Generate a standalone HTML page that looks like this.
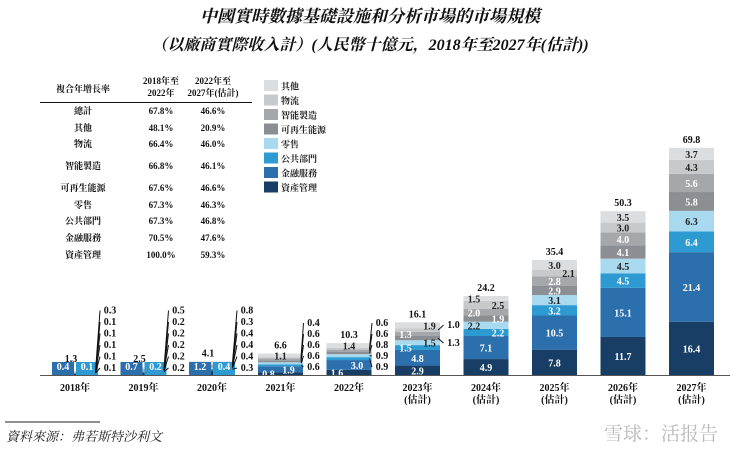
<!DOCTYPE html>
<html><head><meta charset="utf-8">
<style>
body{margin:0;background:#fff;}
svg text{font-family:"Liberation Serif","Noto Serif CJK SC","Noto Sans CJK TC",serif;}
</style></head>
<body>
<svg id="c" width="740" height="454" viewBox="0 0 740 454" xmlns="http://www.w3.org/2000/svg">
<text x="370" y="22" text-anchor="middle" font-size="17" font-weight="bold" font-style="italic" fill="#111">中國實時數據基礎設施和分析市場的市場規模</text>
<text x="370" y="50" text-anchor="middle" font-size="16" font-weight="bold" font-style="italic" fill="#111">（以廠商實際收入計）(人民幣十億元，2018年至2027年(估計))</text>
<g id="table"></g>
<g id="legend"></g>
<g id="bars"></g>
<line x1="40" y1="375.5" x2="730" y2="375.5" stroke="#555" stroke-width="1"/>
<line x1="5" y1="422" x2="100" y2="422" stroke="#222" stroke-width="1"/>
<text x="6" y="441" font-size="13" font-style="italic" fill="#222">資料來源：弗若斯特沙利文</text>
<text x="718" y="440" text-anchor="end" font-size="19" fill="#b8b8b8">雪球：活报告</text>
</svg>
<script>
const years=["2018年","2019年","2020年","2021年","2022年","2023年","2024年","2025年","2026年","2027年"];
const totals=["1.3","2.5","4.1","6.6","10.3","16.1","24.2","35.4","50.3","69.8"];
const seriesNames=["資產管理","金融服務","公共部門","零售","可再生能源","智能製造","物流","其他"];
const assetMgmt=[0.4,0.7,1.2,0.8,1.6,2.9,4.9,7.8,11.7,16.4];
const finance=[0.1,0.2,0.4,1.9,3.0,4.8,7.1,10.5,15.1,21.4];
const publicSector=[0.1,0.2,0.3,0.6,0.9,1.5,2.2,3.2,4.5,6.4];
const retail=[0.1,0.2,0.4,0.6,0.9,1.5,2.2,3.1,4.5,6.3];
const renewable=[0.1,0.2,0.4,0.6,0.8,1.3,1.9,2.9,4.1,5.8];
const smartMfg=[0.1,0.2,0.4,0.6,0.6,1.3,2.0,2.8,4.0,5.6];
const logistics=[0.1,0.2,0.3,0.4,0.6,1.0,2.5,2.1,3.0,4.3];
const others=[0.3,0.5,0.8,1.1,1.4,1.9,1.5,3.0,3.5,3.7];
const tableRows=["總計","其他","物流","智能製造","可再生能源","零售","公共部門","金融服務","資產管理"];
const cagr1=["67.8%","48.1%","66.4%","66.8%","67.6%","67.3%","67.3%","70.5%","100.0%"];
const cagr2=["46.6%","20.9%","46.0%","46.1%","46.6%","46.3%","46.8%","47.6%","59.3%"];

const series=[assetMgmt,finance,publicSector,retail,renewable,smartMfg,logistics,others];
const colors=["#193e66","#2c6fad","#2d9bd2","#a9d9ef","#8b8e93","#a5a7ab","#c8c9cb","#dcdddf"];
const textCol=["#fff","#fff","#fff","#222","#fff","#fff","#222","#222"];
// label layout offsets for crowded forecast years (layout only)
const offs={5:[0,0,-12,12,'s',-12,'s',12],6:[0,0,12,-12,12,-12,12,-12],7:[0,0,0,0,0,0,14,0]};
const NS="http://www.w3.org/2000/svg";
function mk(tag,attrs,parent,txt){const e=document.createElementNS(NS,tag);for(const k in attrs)e.setAttribute(k,attrs[k]);if(txt!==undefined)e.textContent=txt;parent.appendChild(e);return e;}
const base=375,scale=3.25;
function y(v){return base-v*scale;}
function xc(i){return 75+i*68.5;}
const bw=45;

const tb=document.getElementById('table');
let h=mk('text',{x:83,y:92,'text-anchor':'middle','font-size':9,'font-weight':'bold',fill:'#111'},tb,'複合年增長率');


mk('text',{x:161,y:84,'text-anchor':'middle','font-size':9,'font-weight':'bold',fill:'#111'},tb,'2018年至');
mk('text',{x:161,y:96,'text-anchor':'middle','font-size':9,'font-weight':'bold',fill:'#111'},tb,'2022年');
mk('text',{x:213,y:84,'text-anchor':'middle','font-size':9,'font-weight':'bold',fill:'#111'},tb,'2022年至');
mk('text',{x:213,y:96,'text-anchor':'middle','font-size':9,'font-weight':'bold',fill:'#111'},tb,'2027年(估計)');
mk('line',{x1:40,y1:102.5,x2:252,y2:102.5,stroke:'#111','stroke-width':1},tb);
const rowY=[114,131,147,169,191,208,224,241,258];
tableRows.forEach((r,i)=>{
  const t=mk('text',{x:83,y:rowY[i],'text-anchor':'middle','font-size':9,'font-weight':'bold',fill:'#111'},tb,r);
  
  
  mk('text',{x:161,y:rowY[i],'text-anchor':'middle','font-size':9,'font-weight':'bold',fill:'#111'},tb,cagr1[i]);
  mk('text',{x:213,y:rowY[i],'text-anchor':'middle','font-size':9,'font-weight':'bold',fill:'#111'},tb,cagr2[i]);
});

const lg=document.getElementById('legend');
for(let k=0;k<8;k++){
  const s=7-k, ly=80+k*14.5;
  const g=mk('g',{},lg);
  
  
  mk('rect',{x:264,y:ly,width:14,height:11,fill:colors[s]},g);
  mk('text',{x:281,y:ly+9.5,'font-size':9,'font-weight':'bold',fill:'#222'},g,seriesNames[s]);
}

const bg=document.getElementById('bars');
years.forEach((yr,i)=>{
  const cx=xc(i);
  const g=mk('g',{},bg);
  
  
  let cum=0;const tops=[];
  series.forEach((arr,s)=>{
    const v=arr[i];
    const r=mk('rect',{x:cx-bw/2,y:y(cum+v),width:bw,height:v*scale,fill:colors[s]},g);
    
    
    tops.push([cum,cum+v]);cum+=v;
  });
  let sideN=0;
  series.forEach((arr,s)=>{
    const v=arr[i];const mid=(tops[s][0]+tops[s][1])/2;
    let lx,ly,fill=textCol[s],side=false;
    if(i<=2){
      if(s===0){lx=cx-12;ly=base-5;}
      else if(s===1){lx=cx+12;ly=base-5;}
      else{side=true;lx=cx+35;ly=base-4-(s-2)*11.5;}
      if(s<2){mk('rect',{x:lx-11,y:ly-8,width:22,height:14,fill:colors[s===0?1:2]},g);fill='#fff';}
    }else if(i<=4){
      if(s===0){lx=cx-12;ly=y(mid)+4;}
      else if(s===1){lx=cx+8;ly=y(mid)+4;}
      else if(s===7){lx=cx;ly=y(mid)+4;}
      else{side=true;lx=cx+33;ly=base-5-(s-2)*11;}
    }else if(offs[i]){
      const o=offs[i][s];
      if(o==='s'){side=true;lx=cx+36;ly=y(mid)+4-(sideN++)*-0;if(s===6)ly=y(mid)-2;else ly=y(mid)+8;}
      else{lx=cx+o;ly=y(mid)+4;}
    }else{lx=cx;ly=y(mid)+4;}
    if(side){
      mk('line',{x1:cx+bw/2-2,y1:y(mid),x2:lx-10,y2:ly-3,stroke:'#111','stroke-width':1},g);
      fill='#111';
    }
    const t=mk('text',{x:lx,y:ly,'text-anchor':'middle','font-size':10,'font-weight':'bold',fill:fill},g,v.toFixed(1));
    
    
  });
  const ty=Math.min(y(cum)-5,base-13);
  const tt=mk('text',{x:cx-(i<=2?4:0),y:ty,'text-anchor':'middle','font-size':10,'font-weight':'bold',fill:'#111'},g,totals[i]);
  
  
  const xl=mk('text',{x:cx,y:391,'text-anchor':'middle','font-size':10,'font-weight':'bold',fill:'#111'},g,yr);
  
  
  if(i>=5){mk('text',{x:cx,y:403,'text-anchor':'middle','font-size':10,'font-weight':'bold',fill:'#111'},g,'(估計)');}
});
</script>
</body></html>
